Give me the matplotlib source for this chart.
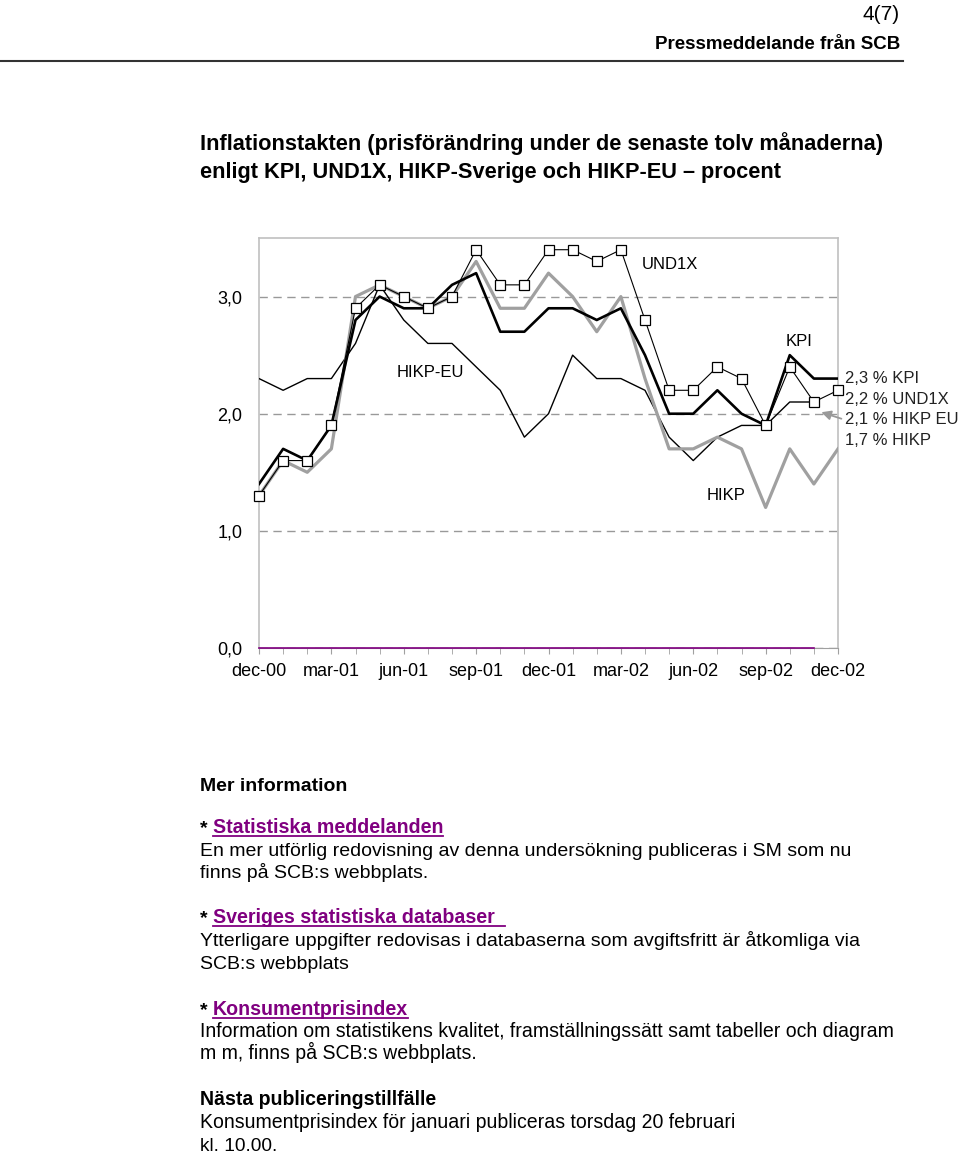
import matplotlib
matplotlib.use('Agg')
import matplotlib.pyplot as plt
from matplotlib import font_manager
from matplotlib.lines import Line2D

# data (inflation, percent), monthly dec-00 .. dec-02
months = ['dec-00', 'jan-01', 'feb-01', 'mar-01', 'apr-01', 'maj-01', 'jun-01',
          'jul-01', 'aug-01', 'sep-01', 'okt-01', 'nov-01', 'dec-01', 'jan-02',
          'feb-02', 'mar-02', 'apr-02', 'maj-02', 'jun-02', 'jul-02', 'aug-02',
          'sep-02', 'okt-02', 'nov-02', 'dec-02']
kpi = [1.4, 1.7, 1.6, 1.9, 2.8, 3.0, 2.9, 2.9, 3.1, 3.2, 2.7, 2.7, 2.9,
       2.9, 2.8, 2.9, 2.5, 2.0, 2.0, 2.2, 2.0, 1.9, 2.5, 2.3, 2.3]
und1x = [1.3, 1.6, 1.6, 1.9, 2.9, 3.1, 3.0, 2.9, 3.0, 3.4, 3.1, 3.1, 3.4,
         3.4, 3.3, 3.4, 2.8, 2.2, 2.2, 2.4, 2.3, 1.9, 2.4, 2.1, 2.2]
hikp = [1.3, 1.6, 1.5, 1.7, 3.0, 3.1, 3.0, 2.9, 3.0, 3.3, 2.9, 2.9, 3.2,
        3.0, 2.7, 3.0, 2.3, 1.7, 1.7, 1.8, 1.7, 1.2, 1.7, 1.4, 1.7]
hikp_eu = [2.3, 2.2, 2.3, 2.3, 2.6, 3.1, 2.8, 2.6, 2.6, 2.4, 2.2, 1.8, 2.0,
           2.5, 2.3, 2.3, 2.2, 1.8, 1.6, 1.8, 1.9, 1.9, 2.1, 2.1]
baseline = [0.0] * 24
yticks = [0, 1, 2, 3]
ytick_labels = ['0,0', '1,0', '2,0', '3,0']
end_labels = ['2,3 % KPI', '2,2 % UND1X', '2,1 % HIKP EU', '1,7 % HIKP']

W, H = 960, 1154
names = {f.name for f in font_manager.fontManager.ttflist}
REG = 'Liberation Sans' if 'Liberation Sans' in names else 'DejaVu Sans'
NARROW = 'Liberation Sans Narrow' if 'Liberation Sans Narrow' in names else REG
plt.rcParams['font.family'] = REG

fig = plt.figure(figsize=(W / 100, H / 100), dpi=100)
ax = fig.add_axes([259 / W, 1 - 648 / H, (838 - 259) / W, (648 - 238) / H])

x = list(range(len(months)))
ax.plot(x[:len(hikp_eu)], hikp_eu, color='black', lw=1.0, zorder=3)
ax.plot(x, hikp, color='#a0a0a0', lw=2.3, zorder=4)
ax.plot(x, kpi, color='black', lw=1.9, zorder=5)
ax.plot(x, und1x, color='black', lw=0.8, marker='s', ms=6.5,
        mfc='white', mec='black', mew=0.9, zorder=6, clip_on=False)
ax.plot(x[:len(baseline)], baseline, color='#800080', lw=1.2, zorder=7,
        clip_on=False)

ax.set_xlim(0, 24)
ax.set_ylim(0, 3.5)
for s in ['left', 'right', 'top']:
    ax.spines[s].set_color('#c0c0c0')
    ax.spines[s].set_linewidth(1.2)
ax.spines['bottom'].set_color('#a0a0a0')

ax.set_yticks(yticks)
ax.set_yticklabels(ytick_labels)
ax.set_xticks(x[::3])
ax.set_xticklabels(months[::3])
ax.set_xticks(x, minor=True)
ax.tick_params(axis='y', length=0, pad=12, labelsize=13)
ax.tick_params(axis='x', which='both', length=4, color='#a0a0a0',
               direction='out', pad=7, labelsize=13)
ax.yaxis.grid(True, color='#999999', linestyle=(0, (6, 4)), lw=1.0)
ax.set_axisbelow(True)

# series names inside the plot
ax.text(17.05, 3.27, 'UND1X', fontsize=12, ha='center', va='center')
ax.text(7.1, 2.35, 'HIKP-EU', fontsize=12, ha='center', va='center')
ax.text(22.4, 2.62, 'KPI', fontsize=12, ha='center', va='center')
ax.text(19.35, 1.30, 'HIKP', fontsize=12, ha='center', va='center')

# latest values to the right
for lab, yv in zip(end_labels, [2.30, 2.12, 1.95, 1.77]):
    ax.text(24.3, yv, lab, fontsize=12, ha='left', va='center',
            color='#222222', clip_on=False)
ax.annotate('', xy=(23.2, 2.02), xytext=(24.25, 1.95),
            arrowprops=dict(arrowstyle='-|>', color='#999999', lw=1.3,
                            mutation_scale=14),
            annotation_clip=False)

# page texts
fig.canvas.draw()
rend = fig.canvas.get_renderer()


def put(s, xp, yp, right=None, size=14, weight='normal', color='black',
        family=REG, ha='left'):
    t = fig.text(xp / W, 1 - yp / H, s, fontsize=size, fontweight=weight,
                 color=color, family=family, ha=ha, va='baseline')
    if right is not None:
        bb = t.get_window_extent(rend)
        t.set_fontsize(size * (right - xp) / bb.width)
    return t


def link(s, yp, right, family=REG, size=14):
    star = put('*', 200, yp, size=size, weight='bold', family=family)
    bb = star.get_window_extent(rend)
    xs = bb.x1 + 5
    t = put(s, xs, yp, right=right, size=size, weight='bold',
            color='#800080', family=family)
    bb2 = t.get_window_extent(rend)
    yl = 1 - (yp + 3) / H
    fig.add_artist(Line2D([bb2.x0 / W, bb2.x1 / W], [yl, yl],
                          color='#800080', lw=1.3))


put('4(7)', 900, 20, size=15, ha='right')
put('Pressmeddelande från SCB', 900, 49, size=13.5, weight='bold', ha='right')
fig.add_artist(Line2D([0, 903 / W], [1 - 61 / H, 1 - 61 / H],
                      color='#333333', lw=1.5))

put('Inflationstakten (prisförändring under de senaste tolv månaderna)',
    200, 150, right=884, size=14, weight='bold', family=NARROW)
put('enligt KPI, UND1X, HIKP-Sverige och HIKP-EU \u2013 procent',
    200, 178, right=782, size=14, weight='bold', family=NARROW)

put('Mer information', 200, 791, weight='bold')
link('Statistiska meddelanden', 833, 444)
put('En mer utförlig redovisning av denna undersökning publiceras i SM som nu',
    200, 856, right=853)
put('finns på SCB:s webbplats.', 200, 878)

link('Sveriges statistiska databaser\u00a0\u00a0', 923, 505, family=NARROW)
put('Ytterligare uppgifter redovisas i databaserna som avgiftsfritt är åtkomliga via',
    200, 946, right=862, family=NARROW)
put('SCB:s webbplats', 200, 969, right=349, family=NARROW)

link('Konsumentprisindex', 1015, 408, family=NARROW)
put('Information om statistikens kvalitet, framställningssätt samt tabeller och diagram',
    200, 1037, right=898, family=NARROW)
put('m m, finns på SCB:s webbplats.', 200, 1059, right=478, family=NARROW)

put('Nästa publiceringstillfälle', 200, 1105, right=437, weight='bold',
    family=NARROW)
put('Konsumentprisindex för januari publiceras torsdag 20 februari',
    200, 1128, right=738, family=NARROW)
put('kl. 10.00.', 200, 1151, right=278, family=NARROW)

fig.savefig('out.png', dpi=100)
